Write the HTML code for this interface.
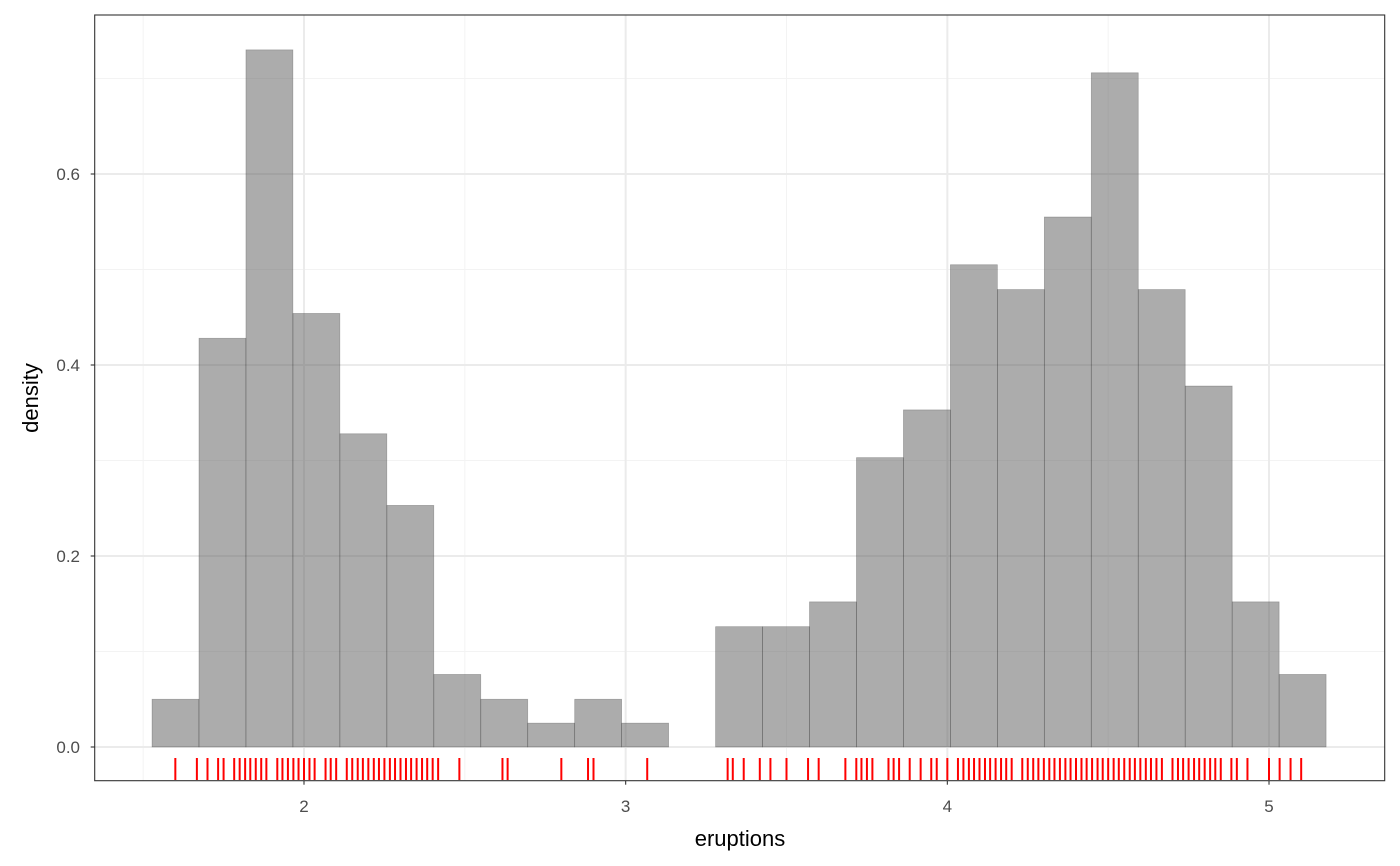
<!DOCTYPE html>
<html><head><meta charset="utf-8"><style>
html,body{margin:0;padding:0;background:#fff;}
svg{display:block;font-family:"Liberation Sans",Arial,sans-serif;}
</style></head><body>
<svg id="chart" width="1400" height="866" viewBox="0 0 1400 866" xmlns="http://www.w3.org/2000/svg">
<g id="grid"></g>
<g id="bars"></g>
<g id="rug"></g>
<rect x="94.7" y="15" width="1290" height="765.7" fill="none" stroke="#333" stroke-width="1.1"/>
<g id="axes"></g>
<text x="740" y="846" font-size="22" text-anchor="middle" fill="#000">eruptions</text>
<text transform="translate(38,398) rotate(-90)" font-size="22" text-anchor="middle" fill="#000">density</text>
</svg>
<script>
const binStart = 1.5275;
const binWidth = 0.146;
const densities = [0.05,0.428,0.73,0.454,0.328,0.253,0.076,0.05,0.025,0.05,0.025,0,0.126,0.126,0.152,0.303,0.353,0.505,0.479,0.555,0.706,0.479,0.378,0.152,0.076];
const xTicks = [2,3,4,5];
const xTickLabels = ["2","3","4","5"];
const yTicks = [0,0.2,0.4,0.6];
const yTickLabels = ["0.0","0.2","0.4","0.6"];
const xMinor = [1.5,2.5,3.5,4.5];
const yMinor = [0.1,0.3,0.5,0.7];
const rugValues = [1.600,1.667,1.700,1.733,1.750,1.783,1.800,1.817,1.833,1.850,1.867,1.883,1.917,1.933,1.950,1.967,1.983,2.000,2.017,2.033,2.067,2.083,2.100,2.133,2.150,2.167,2.183,2.200,2.217,2.233,2.250,2.267,2.283,2.300,2.317,2.333,2.350,2.367,2.383,2.400,2.417,2.483,2.617,2.633,2.800,2.883,2.900,3.067,
3.317,3.333,3.367,3.417,3.450,3.500,3.567,3.600,3.683,3.717,3.733,3.750,3.767,3.817,3.833,3.850,3.883,3.917,3.950,3.967,4.000,4.033,4.050,4.067,4.083,4.100,4.117,4.133,4.150,4.167,4.183,4.200,4.233,4.250,4.267,4.283,4.300,4.317,4.333,4.350,4.367,4.383,4.400,4.417,4.433,4.450,4.467,4.483,4.500,4.517,4.533,4.550,4.567,4.583,4.600,4.617,4.633,4.650,4.667,4.700,4.717,4.733,4.750,4.767,4.783,4.800,4.817,4.833,4.850,4.883,4.900,4.933,5.000,5.033,5.067,5.100];

const X = v => 304 + (v - 2) * 321.67;
const Y = v => 747 - v * 955;
const NS = "http://www.w3.org/2000/svg";
function mk(tag, parent, attrs){const e=document.createElementNS(NS,tag);for(const k in attrs)e.setAttribute(k,attrs[k]);parent.appendChild(e);return e;}
const L=94.7,R=1384.7,T=15,B=780.7;
const grid=document.getElementById('grid');
xMinor.forEach(v=>{const e=mk('line',grid,{x1:X(v),x2:X(v),y1:T,y2:B,stroke:'#f3f3f3','stroke-width':1});

});
yMinor.forEach(v=>{const e=mk('line',grid,{x1:L,x2:R,y1:Y(v),y2:Y(v),stroke:'#f3f3f3','stroke-width':1});

});
xTicks.forEach(v=>{const e=mk('line',grid,{x1:X(v),x2:X(v),y1:T,y2:B,stroke:'#ebebeb','stroke-width':2});

});
yTicks.forEach(v=>{const e=mk('line',grid,{x1:L,x2:R,y1:Y(v),y2:Y(v),stroke:'#ebebeb','stroke-width':2});

});
const bars=document.getElementById('bars');
densities.forEach((d,i)=>{if(d<=0)return;const x0=X(binStart+i*binWidth),x1=X(binStart+(i+1)*binWidth);
const e=mk('rect',bars,{x:x0,y:Y(d),width:x1-x0,height:Y(0)-Y(d),fill:'rgba(89,89,89,0.5)',stroke:'rgba(0,0,0,0.25)','stroke-width':0.7});

});
const rug=document.getElementById('rug');
rugValues.forEach(v=>{const e=mk('line',rug,{x1:X(v),x2:X(v),y1:758,y2:780,stroke:'#ff0000','stroke-width':2});

});
const axes=document.getElementById('axes');
xTicks.forEach((v,i)=>{const t=mk('line',axes,{x1:X(v),x2:X(v),y1:B,y2:B+4,stroke:'#333','stroke-width':1.1});


const l=mk('text',axes,{x:X(v),y:812,'font-size':17,'text-anchor':'middle',fill:'#4d4d4d'});l.textContent=xTickLabels[i];

});
yTicks.forEach((v,i)=>{const t=mk('line',axes,{x1:L-4,x2:L,y1:Y(v),y2:Y(v),stroke:'#333','stroke-width':1.1});


const l=mk('text',axes,{x:80,y:Y(v)+6,'font-size':17,'text-anchor':'end',fill:'#4d4d4d'});l.textContent=yTickLabels[i];

});
</script>
</body></html>
